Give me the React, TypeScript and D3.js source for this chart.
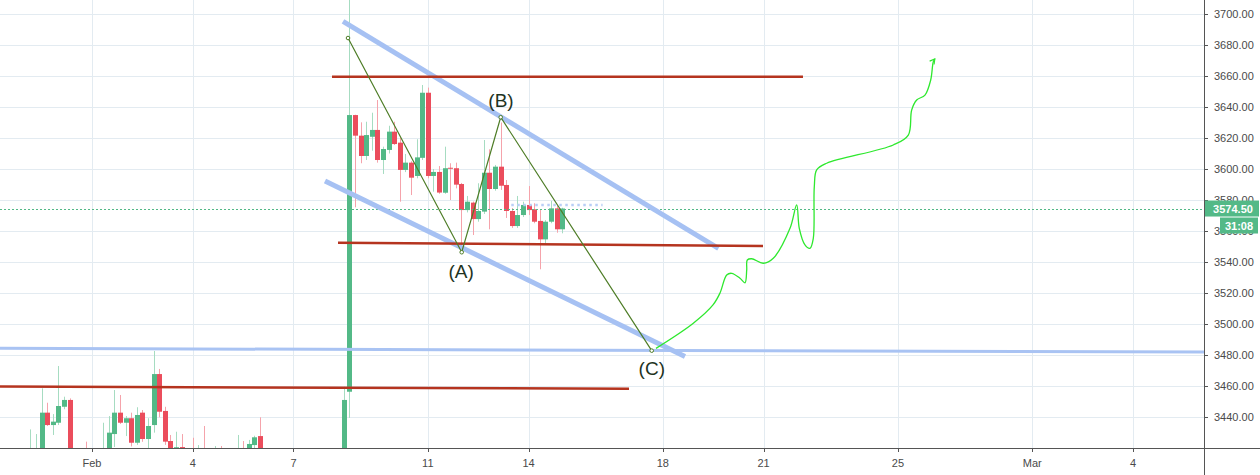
import React, { useEffect } from "react";
import * as d3 from "d3";

// ---------- data ----------
const dateTickDays = [1, 4, 7, 11, 14, 18, 21, 25, 29, 32]; // days counted from Feb 1 = 1
const dateTickLabels = ["Feb", "4", "7", "11", "14", "18", "21", "25", "Mar", "4"];
const priceTicks = [3440, 3460, 3480, 3500, 3520, 3540, 3560, 3580, 3600, 3620, 3640, 3660, 3680, 3700];

const firstCandleDay = -5 / 6; // Jan 30, 04:00
const candleStepDays = 1 / 6; // 4h candles

const opens = [
  3402, 3410, 3416, 3442.8, 3434.8, 3436.3, 3446.6, 3451, 3410, 3405,
  3412, 3406, 3410, 3410, 3416, 3429, 3442.8, 3436.3, 3439.2, 3423.4,
  3442.8, 3425.8, 3434.8, 3467.7, 3443.9, 3424.5, 3412, 3420.6, 3410, 3412,
  3404, 3410, 3404, 3408, 3412, 3406, 3410, 3405, 3414, 3408,
  3421.9, 3427.7, 3410, 3400, 3392, 3398, 3384, 3390, 3386, 3376,
  3388, 3383, 3389, 3394, 3391, 3399, 3398, 3456.3, 3634.8, 3621.5,
  3608.4, 3620.8, 3625.2, 3605.8, 3612.3, 3624.1, 3617, 3599.4, 3604.1, 3595.5,
  3607.2, 3649.2, 3595.5, 3598.1, 3584.7, 3600.8, 3600.5, 3590.3, 3573.5, 3578.3,
  3567.7, 3572.5, 3597.6, 3587.1, 3601.5, 3589.7, 3572.9, 3563.2, 3570.3, 3576.8,
  3574, 3566.5, 3554.6, 3566, 3574.6, 3561.1,
];
const highs = [
  3432, 3429, 3458.5, 3449.2, 3441.9, 3472.9, 3453.1, 3452, 3416, 3414,
  3424.1, 3415, 3416, 3436.3, 3440.6, 3457.4, 3454.2, 3440.6, 3442.8, 3446.3,
  3444.5, 3439.2, 3482.6, 3471, 3446.6, 3428.4, 3430.5, 3429, 3418, 3426.6,
  3421.9, 3434.2, 3414, 3421.3, 3421.3, 3415, 3416, 3428.4, 3424.5, 3425.2,
  3427.9, 3439.8, 3416, 3408, 3402, 3405, 3395, 3398, 3394, 3390,
  3396, 3392, 3400, 3404, 3402, 3410, 3459.5, 3720, 3635, 3630.1,
  3630.5, 3636.3, 3644.5, 3614.4, 3627.9, 3630.5, 3620.2, 3609.7, 3605, 3619.2,
  3654.2, 3652.5, 3600, 3601.9, 3614.4, 3603.7, 3604.1, 3591, 3582.6, 3579,
  3590.8, 3618.7, 3612.7, 3602.6, 3630, 3592.9, 3574.8, 3582.6, 3578.9, 3589,
  3577.9, 3573.5, 3567, 3579.4, 3576.1, 3575,
];
const lows = [
  3395, 3400, 3410, 3434.2, 3428.4, 3434.8, 3445, 3405, 3400, 3398,
  3402, 3398, 3402, 3404, 3410, 3420.6, 3435.5, 3427.7, 3421, 3422,
  3424, 3420, 3429.9, 3439.8, 3422, 3405, 3408, 3405, 3402, 3400,
  3398, 3398, 3396, 3400, 3402, 3398, 3400, 3400, 3404, 3404,
  3419, 3404, 3395, 3388, 3385, 3380, 3375, 3382, 3370, 3372,
  3380, 3376, 3384, 3387, 3386, 3393, 3392, 3439.4, 3575.3, 3603.7,
  3605.8, 3611.8, 3604.1, 3596.8, 3610, 3615.5, 3578.9, 3598, 3583.2, 3594,
  3605.8, 3594, 3585.4, 3584, 3584, 3580, 3587.5, 3546.5, 3572, 3557.4,
  3566, 3571, 3561.1, 3586, 3586.5, 3568.4, 3562, 3562, 3569, 3570.3,
  3565, 3535.3, 3551, 3565, 3558.9, 3558.5,
];
const closes = [
  3414, 3417, 3442.8, 3434.8, 3437, 3447.1, 3451, 3410, 3405, 3410,
  3406, 3410, 3412, 3418, 3429.9, 3442.8, 3436.3, 3439.2, 3423.4, 3441.3,
  3425.8, 3434.2, 3467.7, 3443.4, 3424.1, 3412, 3420.5, 3410, 3408, 3404,
  3410, 3404, 3408, 3412, 3406, 3410, 3405, 3414, 3408, 3422.6,
  3426.9, 3410, 3400, 3392, 3398, 3384, 3390, 3386, 3376, 3388,
  3383, 3389, 3394, 3391, 3399, 3398, 3451, 3634.8, 3621.5, 3608.4,
  3621.9, 3625.2, 3605.8, 3612.9, 3624.1, 3616.1, 3599.4, 3604.1, 3594.4, 3607.5,
  3649.2, 3595.5, 3598.1, 3584.8, 3600.5, 3600.2, 3589.9, 3573.5, 3578.9, 3567.7,
  3572.9, 3597.6, 3587.1, 3601.5, 3589.2, 3572.9, 3563.2, 3570.3, 3576.8, 3573.5,
  3566, 3554.6, 3566, 3574.6, 3561.1, 3574.5,
];

const lastPrice = 3574.5;
const lastPriceLabel = "3574.50";
const countdownLabel = "31:08";

// drawings, as [day, price] points
const redLevelTop: [number, number][] = [[8.147, 3659.5], [22.173, 3659.5]];
const redLevelMid: [number, number][] = [[8.326, 3552.4], [20.982, 3550.3]];
const redLevelLow: [number, number][] = [[-1.8, 3459.7], [16.992, 3458.2]];
const channelUpper: [number, number][] = [[8.475, 3695.2], [19.656, 3548.8]];
const channelLower: [number, number][] = [[7.939, 3592.3], [18.659, 3479.0]];
const supportBlue: [number, number][] = [[-1.8, 3484.3], [34.2, 3481.9]];
const abcPath: [number, number][] = [[8.624, 3684.5], [12.01, 3546.3], [13.171, 3633.4], [17.668, 3482.8]];
const abcLabels = ["(A)", "(B)", "(C)"];
const abcLabelPos: [number, number][] = [[11.99, 3534], [13.18, 3644.5], [17.67, 3471.6]];
const bidLine: [number, number][] = [[13.486, 3576.8], [16.205, 3576.8]];
const forecastPath: [number, number][] = [
  [17.796, 3484.3], [18.907, 3500.5], [19.493, 3512.3], [19.702, 3520.0], [19.901, 3531.6],
  [20.05, 3532.7], [20.297, 3529.5], [20.446, 3526.6], [20.497, 3534.8], [20.515, 3541.3],
  [20.646, 3542.1], [20.991, 3539.2], [21.289, 3542.4], [21.786, 3561.7], [21.985, 3576.8],
  [22.063, 3561.7], [22.232, 3551.0], [22.381, 3548.8], [22.48, 3555.3], [22.51, 3588.6],
  [22.581, 3599.4], [22.879, 3603.7], [24.862, 3615.5], [25.309, 3621.9], [25.41, 3638.1],
  [25.559, 3644.5], [25.806, 3647.7], [25.976, 3657.4], [26.054, 3669.2], [26.1, 3671.0],
];

// ---------- layout ----------
const W = 1260;
const H = 475;
const PLOT_W = 1204;
const PLOT_H = 448;
const FONT = "'Liberation Sans', Arial, sans-serif";
const GREEN = "#53b987";
const RED = "#eb4d5c";
const GREEN_WICK = "#a6dcc1";
const RED_WICK = "#f5a3ab";
const GRID = "#e3ebf1";
const AXIS = "#555555";

export default function App() {
  useEffect(() => {
    document.body.style.margin = "0";
  }, []);

  const x = d3.scaleLinear().domain([-1.7397, 34.115]).range([0, PLOT_W]);
  const y = d3.scaleLinear().domain([3420, 3709.03]).range([PLOT_H, 0]);
  const line = d3.line<[number, number]>().x((d) => x(d[0])).y((d) => y(d[1]));
  const curve = d3
    .line<[number, number]>()
    .x((d) => x(d[0]))
    .y((d) => y(d[1]))
    .curve(d3.curveCatmullRom.alpha(0.5));

  const candles = opens.map((o, i) => ({
    t: firstCandleDay + i * candleStepDays,
    o,
    h: highs[i],
    l: lows[i],
    c: closes[i],
  }));
  const bodyW = 5;

  return (
    <svg
      width={W}
      height={H}
      style={{ position: "absolute", left: 0, top: 0, display: "block", background: "#fff" }}
      fontFamily={FONT}
    >
      <defs>
        <clipPath id="plotClip">
          <rect x={0} y={0} width={PLOT_W} height={PLOT_H} />
        </clipPath>
        <marker
          id="arrowHead"
          viewBox="0 0 10 10"
          refX="8"
          refY="5"
          markerWidth="7"
          markerHeight="7"
          markerUnits="userSpaceOnUse"
          orient="auto"
        >
          <path d="M1,1 L8,5 L1,9" fill="none" stroke="#2ee82e" strokeWidth="1.6" />
        </marker>
      </defs>
      <rect x={0} y={0} width={W} height={H} fill="#fff" />

      <g clipPath="url(#plotClip)">
        {/* grid */}
        {priceTicks.map((p) => (
          <line key={"gy" + p} x1={0} x2={PLOT_W} y1={Math.round(y(p)) + 0.5} y2={Math.round(y(p)) + 0.5} stroke={GRID} />
        ))}
        {dateTickDays.map((d) => (
          <line key={"gx" + d} x1={Math.round(x(d)) + 0.5} x2={Math.round(x(d)) + 0.5} y1={0} y2={PLOT_H} stroke={GRID} />
        ))}

        {/* candles */}
        {candles.map((c, i) => {
          const up = c.c >= c.o;
          const cx = Math.round(x(c.t));
          const top = y(Math.max(c.o, c.c));
          const bot = y(Math.min(c.o, c.c));
          return (
            <g key={"c" + i}>
              <line x1={cx + 0.5} x2={cx + 0.5} y1={y(c.h)} y2={y(c.l)} stroke={up ? GREEN_WICK : RED_WICK} strokeWidth={1} />
              <rect x={cx - 2} y={top} width={bodyW} height={Math.max(1, bot - top)} fill={up ? GREEN : RED} />
            </g>
          );
        })}

        {/* last price line */}
        <line
          x1={0}
          x2={PLOT_W}
          y1={Math.round(y(lastPrice)) + 0.5}
          y2={Math.round(y(lastPrice)) + 0.5}
          stroke={GREEN}
          strokeWidth={1}
          strokeDasharray="2,2"
        />

        {/* drawings */}
        <path d={line(supportBlue) || ""} stroke="#a9c3f3" strokeWidth={3} fill="none" />
        <path d={line(channelUpper) || ""} stroke="#a6c1f3" strokeWidth={5} fill="none" />
        <path d={line(channelLower) || ""} stroke="#a6c1f3" strokeWidth={5} fill="none" />
        <path d={line(redLevelTop) || ""} stroke="#b5341f" strokeWidth={2.5} fill="none" />
        <path d={line(redLevelMid) || ""} stroke="#b5341f" strokeWidth={2.5} fill="none" />
        <path d={line(redLevelLow) || ""} stroke="#b5341f" strokeWidth={2.5} fill="none" />
        <path d={line(bidLine) || ""} stroke="#b9cff6" strokeWidth={2.5} strokeDasharray="2.5,3.5" fill="none" />

        <path d={line(abcPath) || ""} stroke="#4e7d27" strokeWidth={1.2} fill="none" />
        {abcPath.map((p, i) => (
          <circle key={"abc" + i} cx={x(p[0])} cy={y(p[1])} r={1.8} fill="#fff" stroke="#4e7d27" strokeWidth={1} />
        ))}
        {abcLabels.map((t, i) => (
          <text
            key={"lab" + i}
            x={x(abcLabelPos[i][0])}
            y={y(abcLabelPos[i][1])}
            textAnchor="middle"
            dominantBaseline="central"
            fontSize={19}
            fill="#1e331f"
          >
            {t}
          </text>
        ))}

        <path d={curve(forecastPath) || ""} stroke="#2ee82e" strokeWidth={1.3} fill="none" markerEnd="url(#arrowHead)" />
      </g>

      {/* axes */}
      <line x1={0} x2={W} y1={PLOT_H + 0.5} y2={PLOT_H + 0.5} stroke={AXIS} />
      <line x1={PLOT_W + 0.5} x2={PLOT_W + 0.5} y1={0} y2={H} stroke={AXIS} />

      {priceTicks.map((p) => (
        <g key={"pt" + p}>
          <line x1={PLOT_W} x2={PLOT_W + 4} y1={Math.round(y(p)) + 0.5} y2={Math.round(y(p)) + 0.5} stroke={AXIS} />
          <text x={PLOT_W + 10} y={y(p)} dominantBaseline="central" fontSize={11} fill="#4a4a4a">
            {d3.format(".2f")(p)}
          </text>
        </g>
      ))}
      {dateTickDays.map((d, i) => (
        <g key={"dt" + d}>
          <line x1={Math.round(x(d)) + 0.5} x2={Math.round(x(d)) + 0.5} y1={PLOT_H} y2={PLOT_H + 4} stroke={AXIS} />
          <text x={x(d)} y={PLOT_H + 15} dominantBaseline="central" textAnchor="middle" fontSize={11} fill="#4a4a4a">
            {dateTickLabels[i]}
          </text>
        </g>
      ))}

      {/* last price labels */}
      <rect x={PLOT_W + 1} y={y(lastPrice) - 8} width={W - PLOT_W - 2} height={16} fill={GREEN} />
      <text
        x={(PLOT_W + W) / 2 + 1}
        y={y(lastPrice)}
        textAnchor="middle"
        dominantBaseline="central"
        fontSize={11}
        fontWeight="bold"
        fill="#fff"
      >
        {lastPriceLabel}
      </text>
      <rect x={PLOT_W + 16} y={y(lastPrice) + 9} width={W - PLOT_W - 18} height={16} fill={GREEN} />
      <text
        x={(PLOT_W + 16 + W - 2) / 2}
        y={y(lastPrice) + 17}
        textAnchor="middle"
        dominantBaseline="central"
        fontSize={11}
        fontWeight="bold"
        fill="#fff"
      >
        {countdownLabel}
      </text>
    </svg>
  );
}
